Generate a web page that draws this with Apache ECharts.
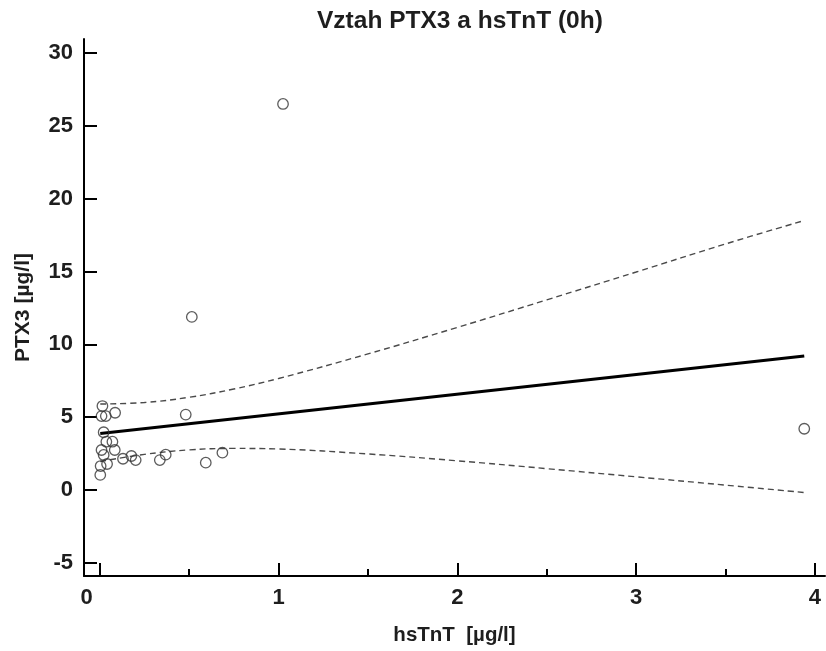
<!DOCTYPE html>
<html>
<head>
<meta charset="utf-8">
<script src="https://cdn.jsdelivr.net/npm/echarts@6/dist/echarts.min.js"></script>
<style>
  html, body { margin: 0; padding: 0; background: #fff; }
  #chart { width: 826px; height: 651px; }
</style>
</head>
<body>
<div id="chart"></div>
<script>
// hsTnT [µg/l] and PTX3 [µg/l] at 0h, one pair per patient
const hsTnT = [0.015, 0.010, 0.034, 0.086, 0.481, 0.022, 0.037, 0.071, 0.010, 0.084,
               0.022, 0.130, 0.177, 0.201, 0.336, 0.369, 0.593, 0.686, 0.041, 0.005,
               0.003, 0.515, 1.025, 3.940];
const ptx3  = [5.76, 5.07, 5.07, 5.30, 5.17, 3.96, 3.31, 3.31, 2.74, 2.74,
               2.40, 2.14, 2.33, 2.05, 2.05, 2.42, 1.87, 2.56, 1.78, 1.64,
               1.03, 11.88, 26.5, 4.20];

// Fitted regression line, drawn between its two end points
const fitX = [0.003, 3.94];
const fitY = [3.88, 9.20];

// 95% confidence band of the fit
const bandX     = [0.003, 0.25, 0.5, 0.75, 1.0, 1.5, 2.0, 2.5, 3.0, 3.5, 3.94];
const bandUpper = [5.90, 6.00, 6.36, 6.93, 7.65, 9.34, 11.16, 13.05, 14.96, 16.89, 18.50];
const bandLower = [1.95, 2.44, 2.75, 2.85, 2.81, 2.47, 2.00, 1.46, 0.90, 0.33, -0.18];

// Axis ticks
const xMajorTicks = [0, 1, 2, 3, 4];
const xMinorTicks = [0.5, 1.5, 2.5, 3.5];
const yTicks = [-5, 0, 5, 10, 15, 20, 25, 30];

const titleText = 'Vztah PTX3 a hsTnT (0h)';
const xName = 'hsTnT  [µg/l]';
const yName = 'PTX3 [µg/l]';

const FONT = '"Liberation Sans", Arial, sans-serif';
const INK = '#1e1e1e';

const zip = (xs, ys) => xs.map((x, i) => [x, ys[i]]);

const xMin = -0.088, xMax = 4.056;
const yMin = -5.91, yMax = 30.96;

const labelFont = { fontFamily: FONT, fontWeight: 'bold', fontSize: 22, color: INK };
const nameFont = { fontFamily: FONT, fontWeight: 'bold', fontSize: 20.5, color: INK };

const chart = echarts.init(document.getElementById('chart'), null, { renderer: 'canvas' });
chart.setOption({
  animation: false,
  backgroundColor: '#ffffff',
  title: {
    text: titleText,
    left: 312,
    top: 4,
    textStyle: { fontFamily: FONT, fontWeight: 'bold', fontSize: 24.5, color: INK }
  },
  grid: { left: 84, right: 1, top: 39, bottom: 75 },
  xAxis: [
    {
      type: 'value',
      min: xMin,
      max: xMax,
      name: xName,
      nameLocation: 'middle',
      nameGap: 49,
      nameTextStyle: nameFont,
      axisLine: { show: true, onZero: false, lineStyle: { color: '#000', width: 2 } },
      axisTick: { show: true, inside: true, length: 13, customValues: xMajorTicks,
                  lineStyle: { color: '#000', width: 2 } },
      axisLabel: {
        show: true,
        margin: 11,
        customValues: xMajorTicks,
        ...labelFont,
        formatter: v => (v === 0 ? '{z|0}' : String(v)),
        rich: { z: { ...labelFont, padding: [0, 26, 0, 0] } }
      },
      splitLine: { show: false }
    },
    {
      type: 'value',
      min: xMin,
      max: xMax,
      position: 'bottom',
      axisLine: { show: false, onZero: false },
      axisTick: { show: true, inside: true, length: 7, customValues: xMinorTicks,
                  lineStyle: { color: '#000', width: 2 } },
      axisLabel: { show: false },
      splitLine: { show: false }
    }
  ],
  yAxis: {
    type: 'value',
    min: yMin,
    max: yMax,
    name: yName,
    nameLocation: 'middle',
    nameGap: 50,
    nameRotate: 90,
    nameTextStyle: { ...nameFont, fontSize: 21 },
    axisLine: { show: true, onZero: false, lineStyle: { color: '#000', width: 2 } },
    axisTick: { show: true, inside: true, length: 13, customValues: yTicks,
                lineStyle: { color: '#000', width: 2 } },
    axisLabel: { show: true, margin: 11, customValues: yTicks, ...labelFont },
    splitLine: { show: false }
  },
  series: [
    {
      type: 'line',
      data: zip(bandX, bandUpper),
      smooth: 0.4,
      symbol: 'none',
      silent: true,
      lineStyle: { color: '#4a4a4a', width: 1.4, type: [6, 4] },
      z: 2
    },
    {
      type: 'line',
      data: zip(bandX, bandLower),
      smooth: 0.4,
      symbol: 'none',
      silent: true,
      lineStyle: { color: '#4a4a4a', width: 1.4, type: [6, 4] },
      z: 2
    },
    {
      type: 'line',
      data: zip(fitX, fitY),
      symbol: 'none',
      silent: true,
      lineStyle: { color: '#000', width: 3 },
      z: 3
    },
    {
      type: 'scatter',
      data: zip(hsTnT, ptx3),
      symbol: 'circle',
      symbolSize: 10.5,
      itemStyle: { color: 'rgba(255,255,255,0)', borderColor: '#333', borderWidth: 1.3 },
      z: 4
    }
  ]
});
</script>
</body>
</html>
